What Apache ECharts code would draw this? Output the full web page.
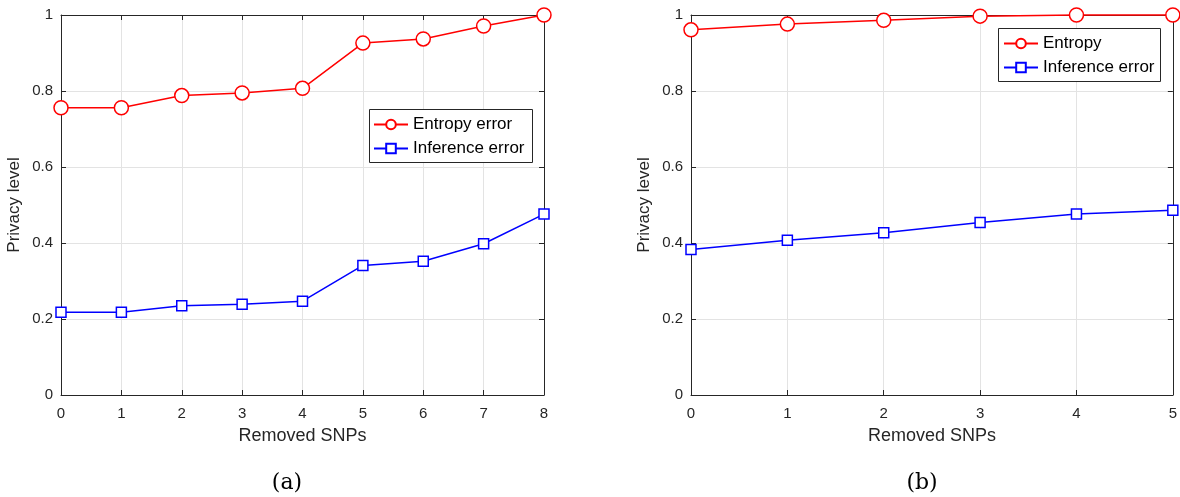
<!DOCTYPE html>
<html>
<head>
<meta charset="utf-8">
<script src="https://cdn.jsdelivr.net/npm/echarts@6/dist/echarts.min.js"></script>
<style>
html,body{margin:0;padding:0;background:#fff;}
#chart{width:1180px;height:497px;}
</style>
</head>
<body>
<div id="chart"></div>
<script>
// ---- data ----
const removedA = [0, 1, 2, 3, 4, 5, 6, 7, 8];
const entropyErrorA = [0.756, 0.756, 0.788, 0.795, 0.807, 0.926, 0.937, 0.971, 1.0];
const inferenceErrorA = [0.218, 0.218, 0.235, 0.239, 0.247, 0.341, 0.352, 0.398, 0.476];

const removedB = [0, 1, 2, 3, 4, 5];
const entropyB = [0.961, 0.976, 0.986, 0.997, 1.0, 1.0];
const inferenceErrorB = [0.383, 0.407, 0.427, 0.454, 0.476, 0.486];

const seriesNamesA = ['Entropy error', 'Inference error'];
const seriesNamesB = ['Entropy', 'Inference error'];
const xAxisTitle = 'Removed SNPs';
const yAxisTitle = 'Privacy level';
const captions = ['(a)', '(b)'];

// ---- styling ----
const FONT = 'Liberation Sans, Arial, Helvetica, sans-serif';
const DARK = '#262626';
const GRIDC = '#e3e3e3';
const RED = '#ff0000';
const BLUE = '#0000ff';

const pairs = (xs, ys) => xs.map((x, i) => [x, ys[i]]);

function mainX(gi, max) {
  return {
    type: 'value', gridIndex: gi, min: 0, max: max, interval: 1,
    name: xAxisTitle, nameLocation: 'middle', nameGap: 32,
    nameTextStyle: {fontFamily: FONT, fontSize: 18, color: DARK},
    axisLine: {show: true, onZero: false, lineStyle: {color: DARK, width: 1}},
    axisTick: {show: true, inside: true, length: 5, lineStyle: {color: DARK}},
    axisLabel: {fontFamily: FONT, fontSize: 15, color: DARK, margin: 11},
    splitLine: {show: true, lineStyle: {color: GRIDC, width: 1}}
  };
}
function mirrorX(gi, max) {
  return {
    type: 'value', gridIndex: gi, position: 'top', min: 0, max: max, interval: 1,
    axisLine: {show: true, onZero: false, lineStyle: {color: DARK, width: 1}},
    axisTick: {show: true, inside: true, length: 5, lineStyle: {color: DARK}},
    axisLabel: {show: false}, splitLine: {show: false}
  };
}
function mainY(gi) {
  return {
    type: 'value', gridIndex: gi, min: 0, max: 1, interval: 0.2,
    name: yAxisTitle, nameLocation: 'middle', nameGap: 38, nameRotate: 90,
    nameTextStyle: {fontFamily: FONT, fontSize: 17, color: DARK},
    axisLine: {show: true, onZero: false, lineStyle: {color: DARK, width: 1}},
    axisTick: {show: true, inside: true, length: 5, lineStyle: {color: DARK}},
    axisLabel: {fontFamily: FONT, fontSize: 15, color: DARK, margin: 8},
    splitLine: {show: true, lineStyle: {color: GRIDC, width: 1}}
  };
}
function mirrorY(gi) {
  return {
    type: 'value', gridIndex: gi, position: 'right', min: 0, max: 1, interval: 0.2,
    axisLine: {show: true, onZero: false, lineStyle: {color: DARK, width: 1}},
    axisTick: {show: true, inside: true, length: 5, lineStyle: {color: DARK}},
    axisLabel: {show: false}, splitLine: {show: false}
  };
}
function lineSeries(name, xi, yi, data, color, symbol, size) {
  return {
    type: 'line', name: name, xAxisIndex: xi, yAxisIndex: yi, data: data,
    symbol: symbol, symbolSize: size, showSymbol: true, clip: false,
    lineStyle: {color: color, width: 1.5},
    itemStyle: {color: '#fff', borderColor: color, borderWidth: 1.5},
    emphasis: {disabled: true}, animation: false, z: 5
  };
}
function legendCfg(names, left, top) {
  return {
    orient: 'vertical', left: left, top: top, padding: 0, itemGap: 7,
    itemWidth: 34, itemHeight: 12,
    data: names,
    textStyle: {fontFamily: FONT, fontSize: 17, color: '#000'},
    selectedMode: false, z: 20
  };
}

const chart = echarts.init(document.getElementById('chart'), null, {renderer: 'canvas'});
chart.setOption({
  backgroundColor: '#fff',
  animation: false,
  grid: [
    {left: 61, top: 15, width: 483, height: 380, show: false},
    {left: 691, top: 15, width: 484, height: 380, show: false}
  ],
  xAxis: [mainX(0, 8), mirrorX(0, 8), mainX(1, 5), mirrorX(1, 5)],
  yAxis: [mainY(0), mirrorY(0), mainY(1), mirrorY(1)],
  legend: [legendCfg(seriesNamesA, 373, 116), legendCfg(seriesNamesB, 1003, 35)],
  graphic: [
    {type: 'rect', shape: {x: 369.5, y: 109.5, width: 163, height: 53}, style: {fill: '#fff', stroke: DARK, lineWidth: 1}, z: 10},
    {type: 'rect', shape: {x: 998.5, y: 28.5, width: 162, height: 53}, style: {fill: '#fff', stroke: DARK, lineWidth: 1}, z: 10},
    {type: 'text', x: 287, y: 483, style: {text: captions[0], font: '22px "DejaVu Serif", serif', fill: '#000', align: 'center', verticalAlign: 'middle'}},
    {type: 'text', x: 922, y: 483, style: {text: captions[1], font: '22px "DejaVu Serif", serif', fill: '#000', align: 'center', verticalAlign: 'middle'}}
  ],
  series: [
    lineSeries(seriesNamesA[0], 0, 0, pairs(removedA, entropyErrorA), RED, 'circle', 14),
    lineSeries(seriesNamesA[1], 0, 0, pairs(removedA, inferenceErrorA), BLUE, 'rect', 10),
    lineSeries(seriesNamesB[0], 2, 2, pairs(removedB, entropyB), RED, 'circle', 14),
    lineSeries(seriesNamesB[1], 2, 2, pairs(removedB, inferenceErrorB), BLUE, 'rect', 10)
  ]
});
</script>
</body>
</html>
